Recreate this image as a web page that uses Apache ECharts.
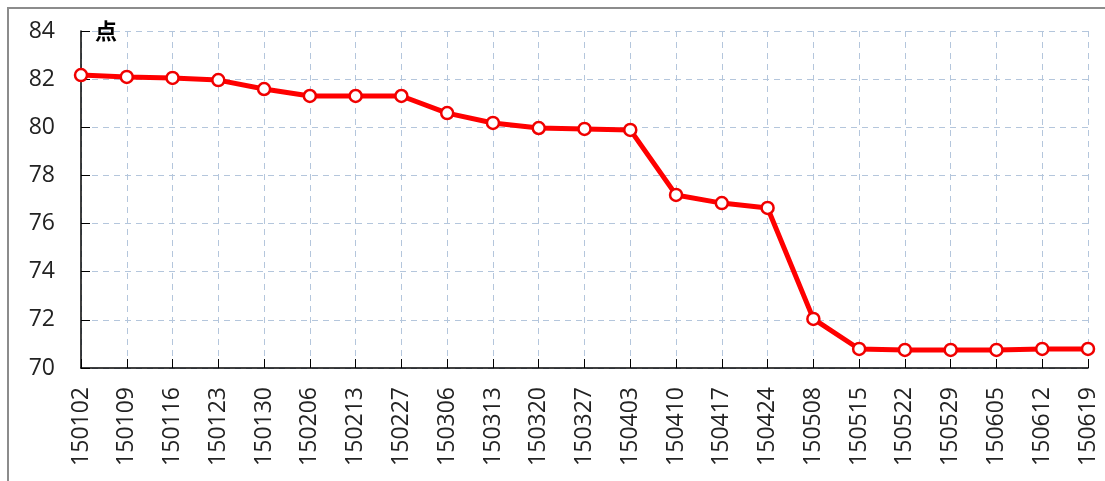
<!DOCTYPE html>
<html>
<head>
<meta charset="utf-8">
<script src="https://cdn.jsdelivr.net/npm/echarts@6/dist/echarts.min.js"></script>
<style>
  html, body { margin: 0; padding: 0; background: #fff; }
  #frame { position: absolute; left: 7px; top: 7px; width: 1098px; height: 474px;
           border-left: 2px solid #8c8c8c; border-top: 2px solid #8c8c8c; }
  #chart { position: absolute; left: 0; top: 0; width: 1105px; height: 481px; }
</style>
</head>
<body>
<div id="frame"></div>
<div id="chart"></div>
<script>
// weekly dates (yymmdd)
const weeks = ['150102', '150109', '150116', '150123', '150130', '150206', '150213', '150227',
  '150306', '150313', '150320', '150327', '150403', '150410', '150417', '150424',
  '150508', '150515', '150522', '150529', '150605', '150612', '150619']
const points = [82.17, 82.09, 82.05, 81.96, 81.59, 81.3, 81.3, 81.3,
  80.59, 80.18, 79.97, 79.93, 79.89, 77.19, 76.85, 76.65,
  72.04, 70.79, 70.75, 70.75, 70.75, 70.79, 70.79]

const gridColor = '#b4c6dc'
const font = 'Open Sans'

const chart = echarts.init(document.getElementById('chart'))
chart.setOption({
  animation: false,
  grid: { left: 81, right: 17, top: 31, bottom: 113 },
  xAxis: {
    type: 'category',
    data: weeks,
    boundaryGap: false,
    axisLine: { lineStyle: { color: '#000', width: 1.5 } },
    axisTick: { inside: true, length: 9, alignWithLabel: true, lineStyle: { color: '#000' } },
    axisLabel: { rotate: 90, margin: 19, fontSize: 23, color: '#222', fontFamily: font, interval: 0 },
    splitLine: { show: true, lineStyle: { color: gridColor, type: [6, 5] } }
  },
  yAxis: {
    type: 'value',
    min: 70,
    max: 84,
    interval: 2,
    name: '点',
    nameLocation: 'end',
    nameGap: 0,
    nameTextStyle: {
      align: 'left', verticalAlign: 'middle', padding: [0, 0, 0, 14],
      fontSize: 22, fontWeight: 'bold', color: '#000', fontFamily: 'Noto Sans CJK SC'
    },
    axisLine: { show: true, lineStyle: { color: '#000', width: 1.5 } },
    axisTick: { show: true, inside: true, length: 9, lineStyle: { color: '#000' } },
    axisLabel: { margin: 26, fontSize: 23, color: '#222', fontFamily: font },
    splitLine: { show: true, lineStyle: { color: gridColor, type: [6, 5] } }
  },
  series: [{
    type: 'line',
    data: points,
    symbol: 'circle',
    symbolSize: 12,
    lineStyle: { color: '#ff0000', width: 5 },
    itemStyle: { color: '#fff', borderColor: '#f00000', borderWidth: 2.5 },
    z: 5
  }]
})
</script>
</body>
</html>
